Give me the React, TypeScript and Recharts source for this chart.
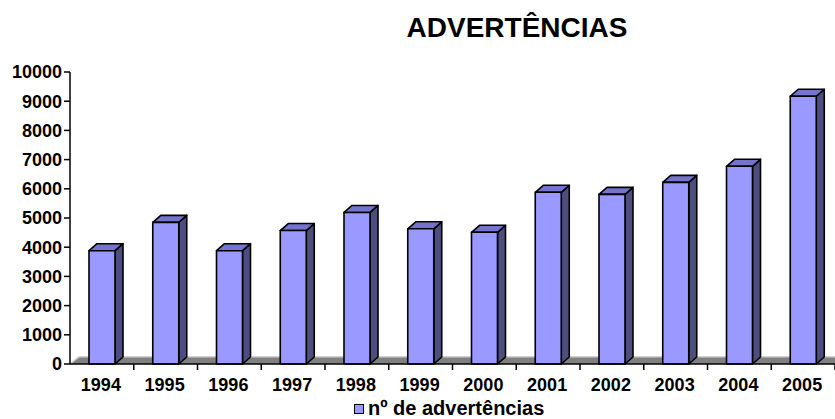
import { BarChart, Bar, XAxis, YAxis, Legend, ReferenceArea } from "recharts";

const years = ["1994", "1995", "1996", "1997", "1998", "1999", "2000", "2001", "2002", "2003", "2004", "2005"];
const warnings = [3880, 4850, 3880, 4570, 5190, 4630, 4510, 5880, 5810, 6220, 6770, 9170];
const yTicks = [0, 1000, 2000, 3000, 4000, 5000, 6000, 7000, 8000, 9000, 10000];

const data = years.map((year, i) => ({ year, value: warnings[i] }));

const W = 835;
const H = 419;
const MARGIN = { top: 72, right: 0, bottom: 0, left: 0 };
const Y_W = 70;
const X_H = 33;
const LEGEND_H = 22;
const AXIS_Y = H - MARGIN.bottom - LEGEND_H - X_H;
const BAND = (W - MARGIN.left - MARGIN.right - Y_W) / years.length;

// 3D depth offset
const DX = 8;
const DY = -7;

const FONT = '"Liberation Sans", Arial, sans-serif';

function Bar3D(props: any) {
  const { x, y, width, height } = props;
  if (height == null || height <= 0) return null;
  const side = `${x + width},${y} ${x + width + DX},${y + DY} ${x + width + DX},${y + height + DY} ${x + width},${y + height}`;
  const top = `${x},${y} ${x + DX},${y + DY} ${x + width + DX},${y + DY} ${x + width},${y}`;
  return (
    <g stroke="#000" strokeWidth={1.6} strokeLinejoin="round">
      <polygon points={side} fill="#4d4d80" />
      <polygon points={top} fill="#7474cc" />
      <rect x={x} y={y} width={width} height={height} fill="#9999ff" />
    </g>
  );
}

function Floor(props: any) {
  const { x, y, width, height } = props;
  const bottom = y + height;
  const pts = `${x},${bottom} ${x + width},${bottom} ${x + width},${y} ${x + DX + 1},${y}`;
  return (
    <g>
      <polygon points={pts} fill="#808080" />
      <line x1={x + DX + 1} y1={y} x2={x + width} y2={y} stroke="#d0d0d0" strokeWidth={1.5} />
      <line x1={x} y1={bottom} x2={x + DX + 1} y2={y} stroke="#d0d0d0" strokeWidth={1.5} />
    </g>
  );
}

function YearTick(props: any) {
  const { x, payload } = props;
  const edge = x + BAND / 2;
  return (
    <g>
      <line x1={edge} y1={AXIS_Y} x2={edge} y2={AXIS_Y + 6} stroke="#000" strokeWidth={1.5} />
      <text x={x - 1} y={AXIS_Y + 27} textAnchor="middle" fontFamily={FONT} fontWeight="bold" fontSize={18} fill="#000">
        {payload.value}
      </text>
    </g>
  );
}

function LegendBox() {
  return (
    <div style={{ display: "flex", alignItems: "center", height: LEGEND_H, fontFamily: FONT, fontWeight: "bold", fontSize: 20, lineHeight: `${LEGEND_H}px`, color: "#000" }}>
      <span style={{ width: 8, height: 8, background: "#9999ff", border: "1px solid #000", marginRight: 4, marginTop: 2 }} />
      <span>nº de advertências</span>
    </div>
  );
}

export default function App() {
  return (
    <div style={{ position: "absolute", left: 0, top: 0, width: W, height: H, background: "#fff" }}>
      <div
        style={{
          position: "absolute",
          left: 517,
          top: 14,
          transform: "translateX(-50%)",
          fontFamily: FONT,
          fontWeight: "bold",
          fontSize: 28,
          lineHeight: "28px",
          whiteSpace: "nowrap",
        }}
      >
        ADVERTÊNCIAS
      </div>
      <BarChart width={W} height={H} data={data} margin={MARGIN} barSize={26}>
        <ReferenceArea y1={0} y2={250} shape={Floor} />
        <XAxis
          dataKey="year"
          height={X_H}
          axisLine={{ stroke: "#000", strokeWidth: 1.5 }}
          tickLine={false}
          tick={YearTick}
          interval={0}
        />
        <YAxis
          width={Y_W}
          domain={[0, 10000]}
          ticks={yTicks}
          interval={0}
          axisLine={{ stroke: "#000", strokeWidth: 1.5 }}
          tickLine={{ stroke: "#000", strokeWidth: 1.5 }}
          tickSize={6}
          tickMargin={2}
          tick={{ fill: "#000", fontFamily: FONT, fontWeight: "bold", fontSize: 18 }}
        />
        <Legend
          verticalAlign="bottom"
          content={LegendBox}
          wrapperStyle={{ left: 354, width: 220, bottom: 0, height: LEGEND_H }}
        />
        <Bar dataKey="value" name="nº de advertências" shape={Bar3D} isAnimationActive={false} />
      </BarChart>
    </div>
  );
}
